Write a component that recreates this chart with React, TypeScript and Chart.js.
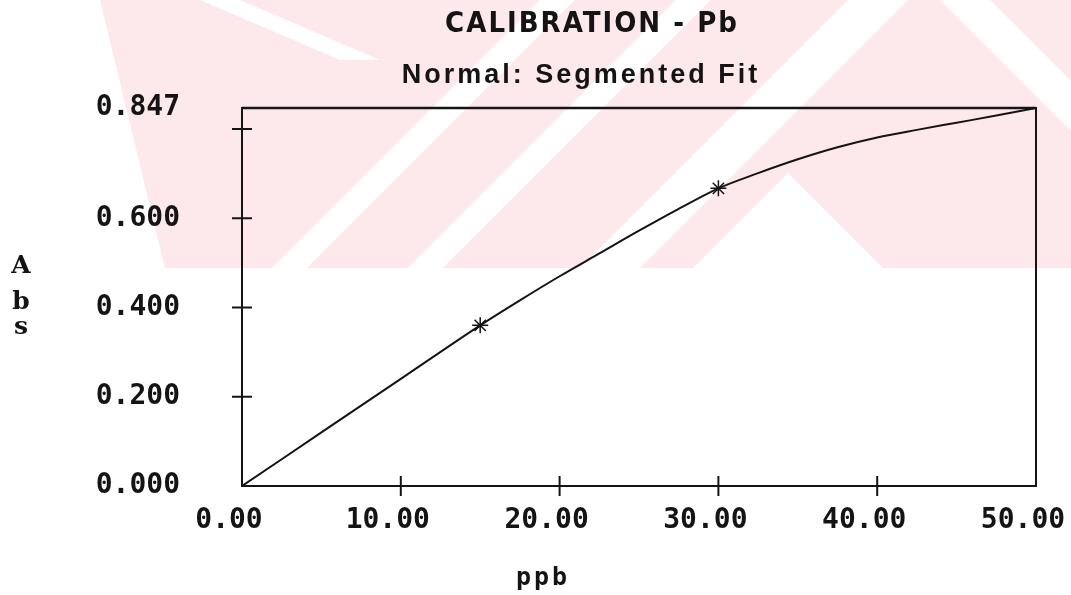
import React, { useEffect, useRef } from 'react';
import { Chart, registerables } from 'chart.js';

Chart.register(...registerables);

// ---- Data ----
const TITLE = 'CALIBRATION - Pb';
const SUBTITLE = 'Normal: Segmented Fit';
const X_TITLE = 'ppb';
const Y_TITLE_LETTERS = ['A', 'b', 's'];

const curveX = [0, 5, 10, 15, 17.5, 20, 22.5, 25, 27.5, 30, 32.5, 35, 37.5, 40, 42.5, 45, 47.5, 50];
const curveY = [0, 0.12, 0.24, 0.36, 0.416, 0.47, 0.521, 0.572, 0.621, 0.667, 0.701, 0.732, 0.759, 0.781, 0.798, 0.814, 0.83, 0.847];

const standardX = [15, 30];
const standardY = [0.36, 0.667];

const xTickValues = [0, 10, 20, 30, 40, 50];
const xTickLabels = ['0.00', '10.00', '20.00', '30.00', '40.00', '50.00'];
const yTickValues = [0, 0.2, 0.4, 0.6, 0.8, 0.847];
const yTickLabels = ['0.000', '0.200', '0.400', '0.600', '', '0.847'];

// ---- Styling ----
const INK = '#141414';
const PINK = '#fde8ec';
const TICK_FONT = { family: "'DejaVu Sans Mono', monospace", size: 28, weight: 'bold' as const };

// watermark decoration (pixel polygons of the faint background logo)
const WM_BASE: number[][] = [[100, 0], [1071, 0], [1071, 268], [165, 268]];
const WM_WHITE: number[][][] = [
  [[272, 268], [307, 268], [575, 0], [540, 0]],
  [[408, 268], [443, 268], [711, 0], [676, 0]],
  [[580, 268], [640, 268], [908, 0], [848, 0]],
  [[693, 268], [788, 173], [883, 268]],
  [[200, 0], [240, 0], [380, 60], [340, 60]],
  [[940, 0], [990, 0], [1071, 81], [1071, 131]],
];

const decorPlugin = {
  id: 'decor',
  beforeDraw(chart: any) {
    const ctx = chart.ctx as CanvasRenderingContext2D;
    ctx.save();
    ctx.fillStyle = '#ffffff';
    ctx.fillRect(0, 0, chart.width, chart.height);
    const poly = (pts: number[][]) => {
      ctx.beginPath();
      pts.forEach((p, i) => (i ? ctx.lineTo(p[0], p[1]) : ctx.moveTo(p[0], p[1])));
      ctx.closePath();
      ctx.fill();
    };
    ctx.fillStyle = PINK;
    poly(WM_BASE);
    ctx.fillStyle = '#ffffff';
    WM_WHITE.forEach(poly);
    ctx.restore();
  },
  beforeDatasetsDraw(chart: any) {
    const ctx = chart.ctx as CanvasRenderingContext2D;
    const { left, right, top, bottom } = chart.chartArea;
    const xs = chart.scales.x;
    const ys = chart.scales.y;
    ctx.save();
    ctx.strokeStyle = INK;
    ctx.lineWidth = 2;
    ctx.strokeRect(left, top, right - left, bottom - top);
    ctx.beginPath();
    ctx.lineWidth = 2.5;
    ctx.moveTo(left, top);
    ctx.lineTo(right, top);
    ctx.stroke();
    ctx.lineWidth = 2;
    ctx.beginPath();
    xTickValues.forEach((v) => {
      if (v === xs.min || v === xs.max) return;
      const px = xs.getPixelForValue(v);
      ctx.moveTo(px, bottom - 10);
      ctx.lineTo(px, bottom + 10);
    });
    yTickValues.forEach((v) => {
      if (v === ys.min || v === ys.max) return;
      const py = ys.getPixelForValue(v);
      ctx.moveTo(left - 10, py);
      ctx.lineTo(left + 10, py);
    });
    ctx.stroke();
    ctx.restore();
  },
  afterDraw(chart: any) {
    const ctx = chart.ctx as CanvasRenderingContext2D & { letterSpacing?: string };
    ctx.save();
    ctx.fillStyle = INK;
    ctx.textAlign = 'center';
    ctx.textBaseline = 'alphabetic';
    ctx.letterSpacing = '2px';
    ctx.font = "bold 29px 'DejaVu Sans Condensed', 'DejaVu Sans', sans-serif";
    ctx.fillText(TITLE, 592, 32);
    ctx.letterSpacing = '3px';
    ctx.font = "bold 27px 'Liberation Sans', Arial, sans-serif";
    ctx.fillText(SUBTITLE, 581, 83);
    ctx.letterSpacing = '3px';
    ctx.font = "bold 25px 'DejaVu Sans Mono', monospace";
    ctx.fillText(X_TITLE, 543, 585);
    ctx.letterSpacing = '0px';
    ctx.font = "bold 25px 'DejaVu Serif', serif";
    const yBase = [273, 309, 334];
    Y_TITLE_LETTERS.forEach((c, i) => ctx.fillText(c, 21, yBase[i]));
    ctx.restore();
  },
};

export default function App() {
  const ref = useRef<HTMLCanvasElement | null>(null);

  useEffect(() => {
    if (!ref.current) return;
    const chart = new Chart(ref.current, {
      type: 'line',
      data: {
        datasets: [
          {
            label: 'Calibration curve',
            data: curveX.map((x, i) => ({ x, y: curveY[i] })),
            borderColor: INK,
            borderWidth: 2,
            pointRadius: 0,
            cubicInterpolationMode: 'monotone',
            fill: false,
          },
          {
            label: 'Standards',
            type: 'scatter' as any,
            data: standardX.map((x, i) => ({ x, y: standardY[i] })),
            pointStyle: 'star',
            pointRadius: 8,
            borderColor: INK,
            borderWidth: 1.5,
            backgroundColor: INK,
            showLine: false,
          },
        ],
      },
      options: {
        animation: false,
        responsive: false,
        layout: { padding: { top: 108, right: 35, left: 0, bottom: 0 } },
        plugins: {
          legend: { display: false },
          tooltip: { enabled: false },
          title: { display: false },
        },
        scales: {
          x: {
            type: 'linear',
            min: 0,
            max: 50,
            afterBuildTicks: (s: any) => {
              s.ticks = xTickValues.map((v) => ({ value: v }));
            },
            afterFit: (s: any) => {
              s.height = 109;
              s.paddingLeft = 0;
              s.paddingRight = 0;
            },
            ticks: {
              callback: (_v: any, i: number) => xTickLabels[i],
              font: TICK_FONT,
              color: INK,
              padding: 18,
              labelOffset: -13,
              maxRotation: 0,
              autoSkip: false,
            },
            grid: { display: false, drawTicks: false },
            border: { display: false },
          },
          y: {
            type: 'linear',
            min: 0,
            max: 0.847,
            afterBuildTicks: (s: any) => {
              s.ticks = yTickValues.map((v) => ({ value: v }));
            },
            afterFit: (s: any) => {
              s.width = 242;
              s.paddingTop = 0;
              s.paddingBottom = 0;
            },
            ticks: {
              callback: (_v: any, i: number) => yTickLabels[i],
              font: TICK_FONT,
              color: INK,
              padding: 62,
              autoSkip: false,
            },
            grid: { display: false, drawTicks: false },
            border: { display: false },
          },
        },
      },
      plugins: [decorPlugin],
    } as any);
    return () => chart.destroy();
  }, []);

  return (
    <div style={{ position: 'fixed', left: 0, top: 0, width: 1071, height: 595, background: '#fff' }}>
      <canvas ref={ref} width={1071} height={595} style={{ display: 'block' }} />
    </div>
  );
}
